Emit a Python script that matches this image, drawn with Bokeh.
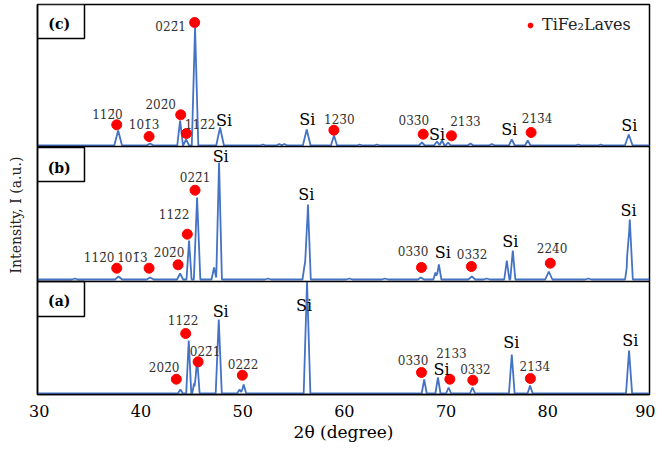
from bokeh.plotting import figure
from bokeh.models import Range1d, FixedTicker, Span, Legend, LegendItem
from bokeh.core.properties import value
from bokeh.embed import file_html
from bokeh.resources import INLINE

SERIF = "DejaVu Serif"
X_START, X_END = 29.83, 90.0
x_ticks = [30, 40, 50, 60, 70, 80, 90]

# baseline of each stacked pattern (a.u.) and panel separators
base_a, base_b, base_c = 1, 115, 249
separators = [113, 248]

# ---- pattern (c) ----
c_pos = [37.76, 40.9, 43.85, 44.44, 45.32, 47.78, 52.0, 53.6, 54.1, 56.3, 58.98, 61.5, 63.2,
         67.62, 69.1, 69.6, 70.2, 72.4, 74.5, 76.46, 78.03, 83.0, 85.2, 87.96]
c_int = [15, 2, 25, 6, 118, 18, 1, 1.5, 1.5, 16, 10, 1, 1,
         3, 4, 5, 3, 2, 1.5, 6, 5, 1, 1, 11]
c_hw = [0.38, 0.35, 0.28, 0.3, 0.32, 0.38, 0.3, 0.3, 0.3, 0.38, 0.3, 0.3, 0.3,
        0.3, 0.3, 0.25, 0.25, 0.3, 0.3, 0.3, 0.28, 0.3, 0.3, 0.38]

# ---- pattern (b) ----
b_pos = [33.5, 37.8, 40.9, 43.85, 44.73, 45.52, 47.19, 47.68, 52.5, 56.13, 56.42, 60.5, 64.0,
         67.52, 68.95, 69.29, 72.53, 74.0, 75.97, 76.56, 80.1, 84.0, 87.8, 88.06]
b_int = [1, 3, 2, 6, 39, 82, 12, 117, 1, 17, 75, 1, 1,
         2, 7, 15, 3, 1, 19, 29, 8, 1, 15, 60]
b_hw = [0.3, 0.35, 0.35, 0.3, 0.25, 0.32, 0.25, 0.28, 0.3, 0.25, 0.28, 0.3, 0.3,
        0.3, 0.2, 0.25, 0.35, 0.3, 0.25, 0.25, 0.35, 0.3, 0.2, 0.3]

# ---- pattern (a) ----
a_pos = [43.88, 44.7, 45.22, 45.52, 47.65, 49.7, 50.1, 56.33,
         67.85, 69.2, 70.25, 72.6, 76.46, 78.26, 87.99]
a_int = [4, 53, 10, 36, 74, 4, 9, 112,
         14, 16, 6, 6, 39, 8, 43]
a_hw = [0.25, 0.25, 0.18, 0.25, 0.3, 0.25, 0.25, 0.33,
        0.25, 0.25, 0.25, 0.25, 0.28, 0.25, 0.3]

# ---- TiFe2 Laves markers ----
c_mk_x = [37.62, 40.8, 43.91, 44.47, 45.28, 58.97, 67.75, 70.53, 78.36]
c_mk_y = [269.7, 258, 279.7, 261, 372, 264.3, 260.3, 258.7, 262]
b_mk_x = [37.62, 40.8, 43.65, 44.56, 45.32, 67.58, 72.49, 80.25]
b_mk_y = [126.3, 126.3, 129.7, 160.3, 204.3, 127, 128, 131.3]
a_mk_x = [43.48, 44.4, 45.62, 49.97, 67.58, 70.37, 72.63, 78.29]
a_mk_y = [15.3, 61, 32.7, 19.3, 22, 15.3, 14.3, 16]

# ---- Miller-Bravais index labels (bar over the third index) ----
c_hkl = ["112\u03040", "101\u03043", "202\u03040", "112\u03042", "022\u03041",
         "123\u03040", "033\u03040", "213\u03043", "213\u03044"]
c_hkl_x = [36.71, 40.31, 41.94, 45.81, 42.92, 59.5, 66.83, 71.9, 78.95]
c_hkl_y = [279.3, 269.3, 289.3, 269.3, 367.7, 275, 273.7, 273, 275.3]
b_hkl = ["112\u03040", "101\u03043", "202\u03040", "112\u03042", "022\u03041",
         "033\u03040", "033\u03042", "224\u03040"]
b_hkl_x = [35.89, 39.16, 42.77, 43.26, 45.32, 66.76, 72.56, 80.42]
b_hkl_y = [137, 137, 142, 179.3, 217, 142.7, 139.7, 145.3]
a_hkl = ["202\u03040", "112\u03042", "022\u03041", "022\u03042",
         "033\u03040", "2133", "0332", "213\u03044"]
a_hkl_x = [42.28, 44.14, 46.3, 50.04, 66.76, 70.53, 72.89, 78.72]
a_hkl_y = [27, 73.7, 42.7, 29.3, 33.7, 42, 25.3, 27.7]

# ---- Si labels ----
si_x = [48.17, 56.35, 69.12, 76.22, 88.01,
        47.84, 56.25, 69.68, 76.32, 87.95,
        47.84, 56.03, 69.55, 76.42, 88.11]
si_y = [274.3, 275.3, 260.3, 265.3, 269.3,
        238, 200.3, 142, 152.7, 183.7,
        82.7, 88.7, 25.3, 52, 53.7]

# ---- panel tags ----
tags = ["(c)", "(b)", "(a)"]
tag_x = [31.96, 31.96, 31.96]
tag_y = [370.3, 227, 93.7]
tag_top = [390, 247, 113]
tag_bottom = [356, 213, 78]
tag_right = 34.45

legend_label = "TiFe\u2082Laves"
y_title = "Intensity, I (a.u.)" + "\u00a0" * 7
x_title = "2\u03b8 (degree)"


def trace(pos, inten, hw, base):
    pts = {X_START, X_END}
    for p0, w in zip(pos, hw):
        pts.update([p0 - w, p0, p0 + w])
    xs = sorted(pts)
    ys = []
    for x in xs:
        s = 0.0
        for p0, h, w in zip(pos, inten, hw):
            d = abs(x - p0)
            if d < w:
                s += h * (1 - d / w)
        ys.append(base + s)
    return xs, ys


p = figure(width=655, height=444, x_range=Range1d(X_START, X_END), y_range=Range1d(0, 390),
           output_backend="svg", toolbar_location=None,
           min_border_left=37, min_border_right=6, min_border_top=4, min_border_bottom=50)
p.xgrid.visible = False
p.ygrid.visible = False
p.outline_line_color = "black"
p.outline_line_width = 1.5
p.background_fill_color = "white"

# axes
p.xaxis.ticker = FixedTicker(ticks=x_ticks)
p.xaxis.major_tick_out = 0
p.xaxis.major_tick_in = 0
p.xaxis.minor_tick_line_color = None
p.xaxis.axis_line_color = "black"
p.xaxis.axis_line_width = 1.5
p.xaxis.major_label_text_font = SERIF
p.xaxis.major_label_text_font_size = "16px"
p.xaxis.major_label_text_color = "black"
p.xaxis.major_label_standoff = 10
p.xaxis.axis_label = x_title
p.xaxis.axis_label_text_font = SERIF
p.xaxis.axis_label_text_font_style = "normal"
p.xaxis.axis_label_text_font_size = "17px"
p.xaxis.axis_label_text_color = "black"
p.xaxis.axis_label_standoff = 2

p.yaxis.ticker = FixedTicker(ticks=[])
p.yaxis.major_tick_out = 0
p.yaxis.minor_tick_line_color = None
p.yaxis.axis_line_color = "black"
p.yaxis.axis_line_width = 1.5
p.yaxis.axis_label = y_title
p.yaxis.axis_label_text_font = SERIF
p.yaxis.axis_label_text_font_style = "normal"
p.yaxis.axis_label_text_font_size = "14px"
p.yaxis.axis_label_text_color = "#222222"
p.yaxis.axis_label_standoff = 14

for s in separators:
    p.add_layout(Span(location=s, dimension="width", line_color="black", line_width=1.5))

blue = "#4472C4"
for pos, inten, hw, base in [(c_pos, c_int, c_hw, base_c), (b_pos, b_int, b_hw, base_b),
                             (a_pos, a_int, a_hw, base_a)]:
    xs, ys = trace(pos, inten, hw, base)
    p.line(xs, ys, line_color=blue, line_width=1.8)

# markers
mk = p.scatter(c_mk_x + b_mk_x + a_mk_x, c_mk_y + b_mk_y + a_mk_y, size=10,
               fill_color="#FF0000", line_color="#FF0000")

# index labels
p.text(c_hkl_x + b_hkl_x + a_hkl_x, c_hkl_y + b_hkl_y + a_hkl_y, text=c_hkl + b_hkl + a_hkl,
       text_font=value(SERIF), text_font_size="12px", text_color="#333333",
       text_align="center", text_baseline="middle")

p.text(si_x, si_y, text=["Si"] * len(si_x), text_font=value(SERIF), text_font_size="16px",
       text_color="black", text_align="center", text_baseline="middle")

# panel tags
p.quad(left=[X_START] * 3, right=[tag_right] * 3, top=tag_top, bottom=tag_bottom,
       fill_color="white", line_color="black", line_width=1.5)
p.text(tag_x, tag_y, text=tags, text_font=value(SERIF), text_font_size="14px",
       text_font_style="bold", text_color="black", text_align="center", text_baseline="middle")

legend = Legend(items=[LegendItem(label=legend_label, renderers=[mk])], location=(487, 360),
                border_line_color=None, background_fill_alpha=0, padding=0, margin=0,
                glyph_width=12, glyph_height=12, label_standoff=6,
                label_text_font=SERIF, label_text_font_size="16px", label_text_color="#222222")
p.add_layout(legend, "center")

open("out.html", "w").write(file_html(p, INLINE))
